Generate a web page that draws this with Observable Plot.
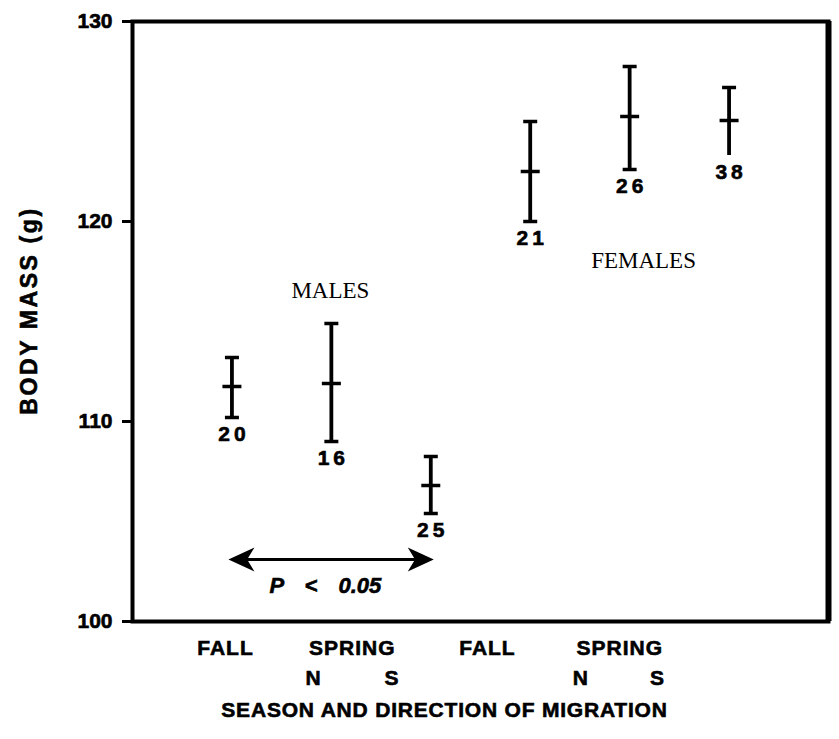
<!DOCTYPE html>
<html><head><meta charset="utf-8">
<script src="https://cdn.jsdelivr.net/npm/d3@7"></script>
<script src="https://cdn.jsdelivr.net/npm/@observablehq/plot@0.6"></script>
<style>
body{margin:0;background:#fff}
</style>
</head><body><div id="chart"></div>
<script>
const groups = ["Male fall","Male spring N","Male spring S","Female fall","Female spring N","Female spring S"];
const xPos = [1,2,3,4,5,6];
const meanMass = [111.75, 111.9, 106.8, 122.5, 125.25, 125.05];
const upperMass = [113.2, 114.9, 108.25, 125.0, 127.75, 126.7];
const lowerMass = [110.2, 109.0, 105.4, 120.0, 122.6, 123.3];
const lowerCapShown = [true, true, true, true, true, false];
const sampleSize = [20, 16, 25, 21, 26, 38];
const yTicks = [100, 110, 120, 130];
const seasonPos = [0.935, 2.21, 3.57, 4.90];
const seasonLabels = ["FALL", "SPRING", "FALL", "SPRING"];
const directionPos = [1.82, 2.61, 4.51, 5.28];
const directionLabels = ["N", "S", "N", "S"];
const groupLabels = ["MALES", "FEMALES"];
const groupLabelX = [1.99, 5.14];
const groupLabelY = [116.55, 118.05];
const sigX = [0.965, 3.03];
const sigY = [103.1];
const sigLabel = ["P < 0.05"];
const sigLabelX = [1.94];
const sigLabelY = [101.8];
const xTitle = ["SEASON AND DIRECTION OF MIGRATION"];
const yTitle = ["BODY MASS (g)"];

const data = groups.map((g, i) => ({group: g, x: xPos[i], mean: meanMass[i], upper: upperMass[i], lower: lowerMass[i], cap: lowerCapShown[i], n: sampleSize[i]}));

const hbar = {draw(ctx, size) { const r = Math.sqrt(size / Math.PI); ctx.moveTo(-r, 0); ctx.lineTo(r, 0); }};
const headLeft = {draw(ctx, size) { const r = Math.sqrt(size / Math.PI); ctx.moveTo(0, 0); ctx.lineTo(r, -0.46 * r); ctx.lineTo(0.72 * r, 0); ctx.lineTo(r, 0.46 * r); ctx.closePath(); }};
const headRight = {draw(ctx, size) { const r = Math.sqrt(size / Math.PI); ctx.moveTo(0, 0); ctx.lineTo(-r, -0.46 * r); ctx.lineTo(-0.72 * r, 0); ctx.lineTo(-r, 0.46 * r); ctx.closePath(); }};

const sans = "'Liberation Sans', Arial, Helvetica, sans-serif";
const serif = "'Liberation Serif', 'Times New Roman', serif";

const plot = Plot.plot({
  width: 839, height: 739,
  marginLeft: 132, marginRight: 11, marginTop: 21, marginBottom: 118,
  x: {domain: [0, 7], axis: null},
  y: {domain: [100, 130], axis: null},
  style: {fontFamily: sans, background: "white", color: "black", overflow: "visible"},
  marks: [
    Plot.frame({stroke: "black", strokeWidth: 4}),
    Plot.ruleX([7], {stroke: "black", strokeWidth: 6}),
    Plot.axisY(yTicks, {tickSize: 10, tickPadding: 10, strokeWidth: 3, fontSize: 21, fontWeight: "bold", tickFormat: d => String(d), label: null}),
    Plot.axisX(seasonPos, {tickSize: 0, tickPadding: 19, fontSize: 21, fontWeight: "bold", tickFormat: d => seasonLabels[seasonPos.indexOf(d)], label: null}),
    Plot.axisX(directionPos, {tickSize: 0, tickPadding: 49, fontSize: 21, fontWeight: "bold", tickFormat: d => directionLabels[directionPos.indexOf(d)], label: null}),
    Plot.text(xTitle, {text: d => d, frameAnchor: "bottom", dx: -36, dy: 81, lineAnchor: "top", fontSize: 21, fontWeight: "bold"}),
    Plot.text(yTitle, {text: d => d, frameAnchor: "left", textAnchor: "middle", dx: -103, dy: -11, rotate: -90, fontSize: 23, fontWeight: "bold"}),
    Plot.ruleX(data, {x: "x", y1: "lower", y2: "upper", stroke: "black", strokeWidth: 3.8}),
    Plot.dot(data, {x: "x", y: "upper", symbol: hbar, r: 7, fill: "none", stroke: "black", strokeWidth: 3.5}),
    Plot.dot(data.filter(d => d.cap), {x: "x", y: "lower", symbol: hbar, r: 7, fill: "none", stroke: "black", strokeWidth: 3.5}),
    Plot.dot(data, {x: "x", y: "mean", symbol: hbar, r: 9.5, fill: "none", stroke: "black", strokeWidth: 3.5}),
    Plot.text(data, {x: "x", y: "lower", text: d => String(d.n), dy: 17, dx: 2, fontSize: 21, fontWeight: "bold"}),
    Plot.text(groupLabels, {x: groupLabelX, y: groupLabelY, text: d => d, fontFamily: serif, fontSize: 23}),
    Plot.ruleY(sigY, {x1: sigX[0], x2: sigX[1], stroke: "black", strokeWidth: 3, insetLeft: 10, insetRight: 10}),
    Plot.dot(sigY, {x: [sigX[0]], y: d => d, symbol: headLeft, r: 26, fill: "black", stroke: "none"}),
    Plot.dot(sigY, {x: [sigX[1]], y: d => d, symbol: headRight, r: 26, fill: "black", stroke: "none"}),
    Plot.text(sigLabel, {x: sigLabelX, y: sigLabelY, text: d => d, fontSize: 22, fontWeight: "bold", fontStyle: "italic"})
  ]
});
document.getElementById("chart").appendChild(plot);

// typographic touches: spacing and heavier strokes for the bold sans text
const nLabels = new Set(sampleSize.map(String));
d3.select(plot).selectAll("text").each(function () {
  const t = this.textContent;
  const el = d3.select(this);
  if (groupLabels.includes(t)) return;
  el.style("stroke", "black").style("stroke-width", "0.6px");
  if (nLabels.has(t)) el.style("letter-spacing", "4px");
  else if (t === xTitle[0]) el.style("letter-spacing", "0.8px");
  else if (t === yTitle[0]) el.style("letter-spacing", "2.6px");
  else if (seasonLabels.includes(t) || directionLabels.includes(t)) el.style("letter-spacing", "1px");
  else if (t === sigLabel[0]) el.style("word-spacing", "15px");
});
</script>
</body></html>
